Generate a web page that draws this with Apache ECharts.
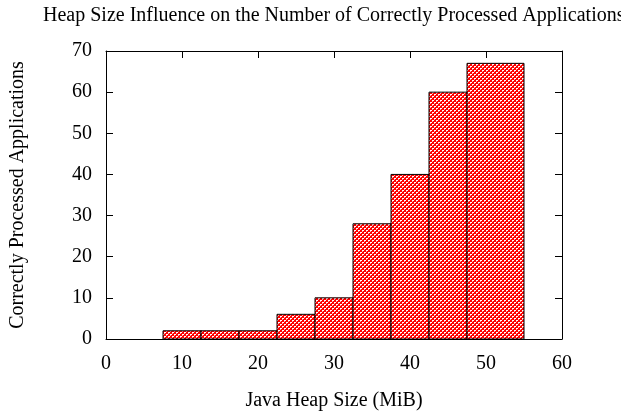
<!DOCTYPE html>
<html><head><meta charset="utf-8">
<script src="https://cdn.jsdelivr.net/npm/echarts@6/dist/echarts.min.js"></script>
<style>html,body{margin:0;padding:0;background:#fff}#c{width:621px;height:414px}</style>
</head><body><div id="c"></div>
<script>
var binStart = [7.5, 12.5, 17.5, 22.5, 27.5, 32.5, 37.5, 42.5, 47.5];
var binEnd   = [12.5, 17.5, 22.5, 27.5, 32.5, 37.5, 42.5, 47.5, 55];
var counts   = [2, 2, 2, 6, 10, 28, 40, 60, 67];
var xTicks = [0, 10, 20, 30, 40, 50, 60];
var yTicks = [0, 10, 20, 30, 40, 50, 60, 70];

var tile = document.createElement('canvas');
tile.width = 4; tile.height = 4;
var g = tile.getContext('2d');
g.fillStyle = '#ff0000'; g.fillRect(0,0,4,4);
g.fillStyle = '#ffffff';
[[0,0],[1,0],[2,2],[3,2]].forEach(function(p){g.fillRect(p[0],p[1],1,1);});
g.fillStyle = '#ffa8a8';
[[0,1],[2,3]].forEach(function(p){g.fillRect(p[0],p[1],1,1);});

var data = binStart.map(function(s,i){return [s, binEnd[i], counts[i]];});
var font = 'Liberation Serif';
var chart = echarts.init(document.getElementById('c'));
function axisCommon(o){
  o.axisLine = {show:true,onZero:false,lineStyle:{color:'#000',width:1}};
  o.axisTick = {show:true,inside:true,length:7,lineStyle:{color:'#000',width:1}};
  o.splitLine = {show:false};
  return o;
}
chart.setOption({
  animation:false,
  title:{text:'Heap Size Influence on the Number of Correctly Processed Applications',left:38,top:1,
    textStyle:{fontFamily:font,fontWeight:'normal',fontSize:20,color:'#000'}},
  grid:{left:106,right:59,top:51,bottom:75,outerBoundsMode:'none',containLabel:false},
  xAxis:[
    axisCommon({type:'value',min:0,max:60,interval:10,position:'bottom',
      name:'Java Heap Size (MiB)',nameLocation:'middle',nameGap:52,
      nameTextStyle:{fontFamily:font,fontSize:20,color:'#000'},
      axisLabel:{fontFamily:font,fontSize:20,color:'#000',margin:15,
        formatter:function(v){return xTicks.indexOf(v)>=0?String(v):'';}}}),
    axisCommon({type:'value',min:0,max:60,interval:10,position:'top',axisLabel:{show:false}})
  ],
  yAxis:[
    axisCommon({type:'value',min:0,max:70,interval:10,position:'left',
      name:'Correctly Processed Applications',nameLocation:'middle',nameGap:78,
      nameTextStyle:{fontFamily:font,fontSize:20,color:'#000'},
      axisLabel:{fontFamily:font,fontSize:20,color:'#000',margin:14,
        formatter:function(v){return yTicks.indexOf(v)>=0?String(v):'';}}}),
    axisCommon({type:'value',min:0,max:70,interval:10,position:'right',axisLabel:{show:false}})
  ],
  series:[{
    type:'custom',
    xAxisIndex:0,yAxisIndex:0,
    data:data,
    encode:{x:[0,1],y:2},
    renderItem:function(params,api){
      var p0 = api.coord([api.value(0), api.value(2)]);
      var p1 = api.coord([api.value(1), 0]);
      return {type:'rect',
        shape:{x:p0[0],y:p0[1],width:p1[0]-p0[0],height:p1[1]-p0[1]},
        style:{fill:{image:tile,repeat:'repeat'},stroke:'#000',lineWidth:1}};
    }
  }]
});
</script></body></html>
